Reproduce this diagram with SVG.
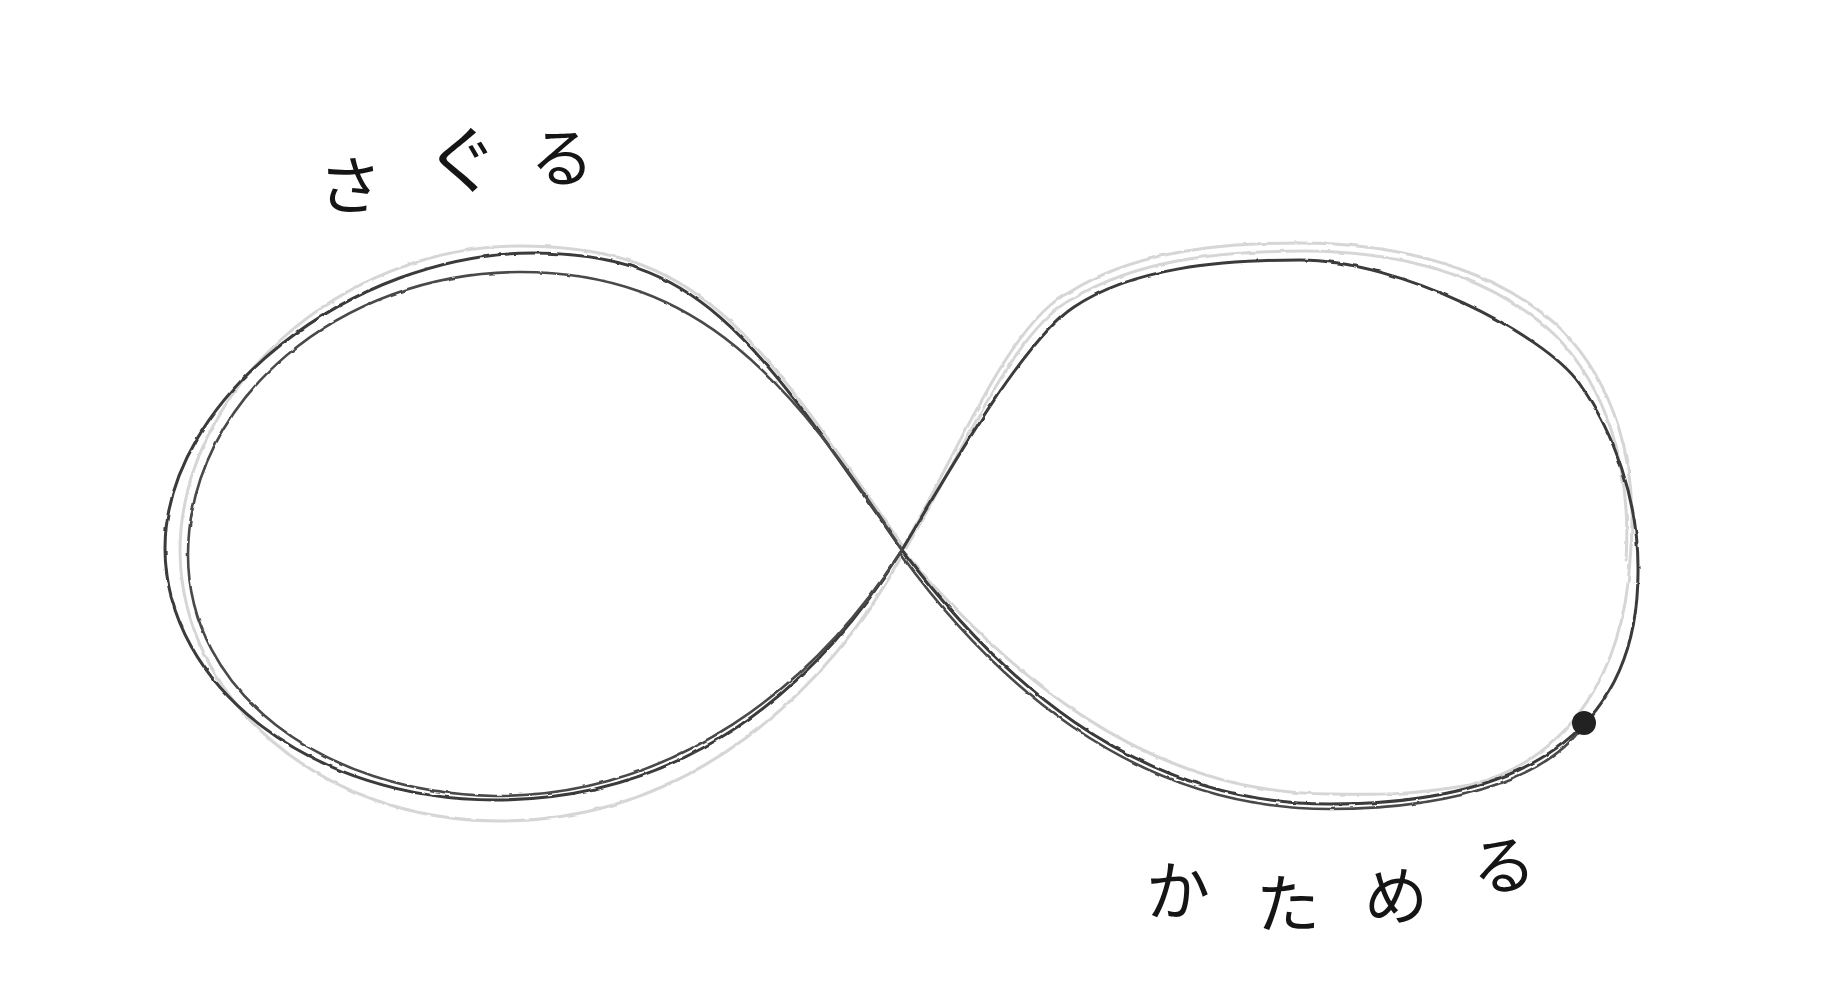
<svg xmlns="http://www.w3.org/2000/svg" width="1848" height="1000" viewBox="0 0 1848 1000">
  <defs>
    <filter id="pencil" x="-5%" y="-5%" width="110%" height="110%">
      <feTurbulence type="fractalNoise" baseFrequency="0.08" numOctaves="2" seed="3" result="n"/>
      <feDisplacementMap in="SourceGraphic" in2="n" scale="2.5" xChannelSelector="R" yChannelSelector="G"/>
    </filter>
  </defs>
  <style>
    .light { fill: none; stroke: #d6d6d6; stroke-width: 3; stroke-linecap: round; stroke-linejoin: round; }
    .dark { fill: none; stroke: #3a3a3a; stroke-width: 3; stroke-linecap: round; stroke-linejoin: round; }
    .dark2 { fill: none; stroke: #4a4a4a; stroke-width: 2.6; stroke-linecap: round; stroke-linejoin: round; }
    .lbl { font-family: "Noto Sans CJK JP", "Noto Sans", sans-serif; font-size: 64px; font-weight: 400; fill: #151515; text-anchor: middle; }
  </style>
  <rect width="1848" height="1000" fill="#ffffff"/>
  <g id="infinity" filter="url(#pencil)">
    <path class="light" d="M 904,546 C 955,458 1010,320 1070,292 C 1130,254 1210,243 1300,243 C 1420,243 1510,280 1562,330 C 1612,382 1640,460 1630,560 C 1624,670 1570,760 1470,785 C 1410,795 1380,795 1330,794 C 1140,794 1000,665 904,552"/>
    <path class="light" d="M 906,548 C 958,462 1014,326 1074,298 C 1134,262 1212,251 1304,251 C 1424,251 1506,288 1556,336 C 1604,386 1632,462 1626,560"/>
    <path class="light" d="M 902,545 C 754,330 700,246 520,246 C 340,246 180,390 180,552 C 182,700 320,821 500,821 C 690,821 830,690 904,552"/>
    <path class="dark" d="M 902,550 C 953,464 1024,340 1074,307 C 1132,268 1220,260 1300,260 C 1400,260 1544,334 1579,383 C 1614,432 1638,500 1638,567 C 1640,720 1540,804 1329,804 C 1129,804 992,670 902,550 C 754,337 701,253 533,253 C 353,253 165,398 165,548 C 165,687 313,800 495,800 C 684,800 816,689 902,550"/>
    <path class="dark2" d="M 902,550 C 790,380 700,272 520,272 C 340,272 188,400 188,555 C 188,690 320,793 495,796 C 675,796 814,686 900,553"/>
    <path class="dark2" d="M 900,553 C 988,675 1129,809 1329,809 C 1470,809 1555,770 1584,724"/>
  </g>
  <circle cx="1584" cy="723" r="12" fill="#222"/>
  <g id="label-saguru">
    <text class="lbl" x="350" y="209">さ</text>
    <text class="lbl" x="462" y="187" style="font-size:74px">ぐ</text>
    <text class="lbl" x="562" y="181">る</text>
  </g>
  <g id="label-katameru">
    <text class="lbl" x="1178" y="914">か</text>
    <text class="lbl" x="1288" y="927">た</text>
    <text class="lbl" x="1396" y="919">め</text>
    <text class="lbl" x="1503" y="889" transform="rotate(-8 1503 865)">る</text>
  </g>
</svg>
